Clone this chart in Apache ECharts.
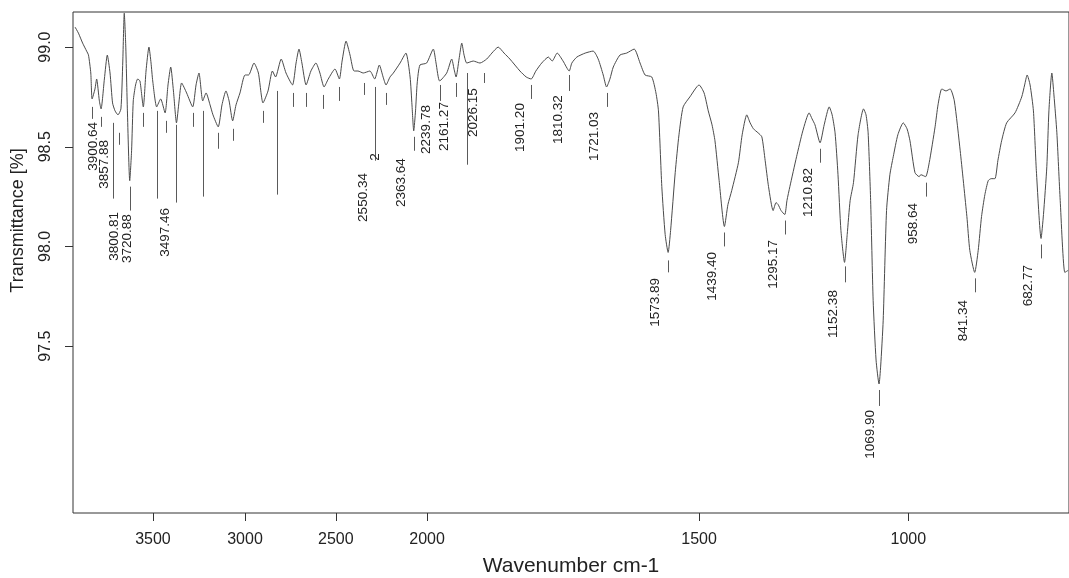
<!DOCTYPE html>
<html>
<head>
<meta charset="utf-8">
<script src="https://cdn.jsdelivr.net/npm/echarts@6/dist/echarts.min.js"></script>
<style>
  html, body { margin: 0; padding: 0; background: #fff; }
  #chart { width: 1069px; height: 578px; }
</style>
</head>
<body>
<div id="chart"></div>
<script>
// ---- spectrum (wavenumber cm-1, transmittance %) ----
const wavenumbers = [
  3982, 3966, 3946, 3927, 3918, 3907, 3900.64, 3887, 3879, 3866,
  3857.88, 3842, 3828, 3815, 3803, 3791, 3777, 3763, 3754, 3747,
  3740, 3732, 3720.88, 3712, 3704, 3693, 3683, 3672, 3656, 3643,
  3629, 3619, 3611, 3592, 3573, 3552, 3538, 3525, 3512, 3497.46,
  3485, 3473, 3449, 3420, 3404, 3390, 3372, 3356, 3337, 3323,
  3298, 3280, 3261, 3246, 3229, 3213, 3194, 3170, 3153, 3127,
  3106, 3084, 3060, 3039, 3024, 2997, 2974, 2943, 2926, 2912,
  2898, 2878, 2855, 2831, 2812, 2792, 2772, 2740, 2719, 2706,
  2687, 2668, 2649, 2630, 2605, 2573, 2550.34, 2528, 2510, 2496,
  2477, 2461, 2429, 2401, 2381, 2372, 2363.64, 2355, 2347, 2334,
  2302, 2270, 2257, 2239.78, 2206, 2182, 2171, 2161.27, 2147, 2134,
  2123, 2110, 2079, 2047, 2015, 1995, 1980, 1966, 1952, 1928,
  1913, 1901.2, 1890, 1876, 1860, 1851, 1839, 1825, 1810.32, 1804,
  1792, 1772, 1753, 1741, 1729, 1721.03, 1713, 1705, 1689, 1673,
  1655, 1641, 1629, 1613, 1603, 1597, 1589, 1581, 1573.89, 1568,
  1557, 1548, 1538, 1522, 1500, 1488, 1478, 1469, 1462, 1452,
  1439.4, 1431, 1422, 1406, 1397, 1386, 1378, 1370, 1359, 1350,
  1342, 1334, 1323, 1316, 1311, 1304, 1295.17, 1290, 1283, 1267,
  1252, 1237, 1230, 1223, 1210.82, 1201, 1189, 1182, 1175, 1168,
  1161, 1152.38, 1146, 1139, 1131, 1120, 1107, 1101, 1096, 1090,
  1084, 1077, 1069.9, 1066, 1060, 1052, 1044, 1036, 1025, 1012,
  1003, 996, 984, 974, 970, 958.64, 950, 936, 929, 920,
  910, 900, 890, 876, 860, 853, 841.34, 833, 825, 817,
  809, 802, 793, 786, 777, 765, 745, 729, 722, 716,
  709, 701, 694, 682.77, 677, 669, 664, 657, 652, 645,
  637, 626, 618
];
const transmittance = [
  99.10, 99.07, 99.02, 98.98, 98.96, 98.87, 98.74, 98.79, 98.84, 98.73,
  98.69, 98.84, 98.96, 98.87, 98.72, 98.68, 98.66, 98.69, 98.93, 99.17,
  99.01, 98.68, 98.33, 98.48, 98.73, 98.81, 98.84, 98.83, 98.70, 98.88,
  99.00, 98.92, 98.83, 98.70, 98.74, 98.67, 98.81, 98.90, 98.78, 98.62,
  98.73, 98.82, 98.77, 98.70, 98.81, 98.87, 98.73, 98.77, 98.71, 98.66,
  98.60, 98.71, 98.78, 98.73, 98.63, 98.71, 98.77, 98.86, 98.86, 98.92,
  98.87, 98.72, 98.78, 98.88, 98.85, 98.94, 98.87, 98.81, 98.92, 98.99,
  98.92, 98.81, 98.88, 98.92, 98.87, 98.80, 98.84, 98.89, 98.84, 98.93,
  99.03, 98.96, 98.88, 98.88, 98.87, 98.88, 98.84, 98.91, 98.85, 98.81,
  98.85, 98.87, 98.92, 98.97, 98.85, 98.71, 98.58, 98.68, 98.82, 98.91,
  98.92, 98.99, 98.92, 98.83, 98.87, 98.94, 98.89, 98.85, 98.94, 99.02,
  98.96, 98.92, 98.93, 98.92, 98.94, 98.97, 99.00, 98.97, 98.94, 98.88,
  98.85, 98.84, 98.88, 98.92, 98.95, 98.93, 98.97, 98.93, 98.88, 98.92,
  98.95, 98.97, 98.98, 98.94, 98.86, 98.80, 98.84, 98.90, 98.96, 98.97,
  98.99, 98.92, 98.86, 98.85, 98.77, 98.68, 98.30, 98.06, 97.97, 98.08,
  98.37, 98.56, 98.70, 98.75, 98.81, 98.77, 98.68, 98.61, 98.53, 98.33,
  98.10, 98.21, 98.28, 98.42, 98.56, 98.66, 98.62, 98.59, 98.57, 98.55,
  98.43, 98.30, 98.18, 98.22, 98.21, 98.18, 98.16, 98.23, 98.30, 98.45,
  98.58, 98.67, 98.64, 98.61, 98.52, 98.61, 98.70, 98.66, 98.57, 98.36,
  98.08, 97.92, 98.06, 98.23, 98.32, 98.56, 98.69, 98.66, 98.57, 98.23,
  97.73, 97.43, 97.31, 97.40, 97.63, 98.18, 98.36, 98.45, 98.56, 98.62,
  98.59, 98.53, 98.37, 98.35, 98.36, 98.35, 98.42, 98.60, 98.71, 98.79,
  98.78, 98.79, 98.73, 98.48, 98.15, 97.98, 97.87, 97.98, 98.15, 98.26,
  98.33, 98.34, 98.34, 98.43, 98.53, 98.62, 98.67, 98.75, 98.81, 98.86,
  98.81, 98.68, 98.38, 98.04, 98.16, 98.40, 98.68, 98.87, 98.76, 98.57,
  98.23, 97.87, 97.88
];

// ---- peak marks (wavenumber, line from / to in transmittance) ----
const markWn     = [3900.64, 3857.88, 3770, 3800.81, 3720.88, 3656, 3592, 3548, 3497.46, 3417, 3369, 3298, 3226, 3083, 3019, 2942, 2878, 2795, 2721, 2601, 2550.34, 2496, 2363.64, 2239.78, 2161.27, 2110, 2026.15, 1901.20, 1810.32, 1721.03, 1573.89, 1439.40, 1295.17, 1210.82, 1152.38, 1069.90, 958.64, 841.34, 682.77];
const markTop    = [98.70, 98.65, 98.57, 98.62, 98.30, 98.67, 98.68, 98.63, 98.61, 98.67, 98.68, 98.57, 98.59, 98.68, 98.78, 98.77, 98.77, 98.76, 98.80, 98.82, 98.80, 98.77, 98.55, 98.81, 98.82, 98.87, 98.87, 98.81, 98.86, 98.77, 97.93, 98.07, 98.13, 98.49, 97.90, 97.28, 98.32, 97.84, 98.01];
const markBottom = [98.64, 98.60, 98.51, 98.24, 98.18, 98.60, 98.24, 98.57, 98.22, 98.60, 98.25, 98.49, 98.53, 98.62, 98.26, 98.70, 98.70, 98.69, 98.73, 98.76, 98.43, 98.71, 98.48, 98.73, 98.75, 98.41, 98.82, 98.74, 98.78, 98.70, 97.87, 98.00, 98.06, 98.42, 97.82, 97.20, 98.25, 97.77, 97.94];

// ---- peak labels ----
const labelText = ['3900.64', '3857.88', '3800.81', '3720.88', '3497.46', '2550.34', '2', '2363.64', '2239.78', '2161.27', '2026.15', '1901.20', '1810.32', '1721.03', '1573.89', '1439.40', '1295.17', '1210.82', '1152.38', '1069.90', '958.64', '841.34', '682.77'];
const labelWn   = [3900.64, 3857.88, 3800.81, 3720.88, 3497.46, 2550.34, 2550.34, 2363.64, 2239.78, 2161.27, 2026.15, 1901.20, 1810.32, 1721.03, 1573.89, 1439.40, 1295.17, 1210.82, 1152.38, 1069.90, 958.64, 841.34, 682.77];
const labelTop  = [98.624, 98.534, 98.173, 98.162, 98.193, 98.368, 98.468, 98.443, 98.709, 98.724, 98.794, 98.719, 98.759, 98.674, 97.842, 97.972, 98.032, 98.393, 97.781, 97.180, 98.218, 97.731, 97.907];

// ---- axis tick labels ----
const xTicks = [3500, 3000, 2500, 2000, 1500, 1000];
const yTicks = [97.5, 98.0, 98.5, 99.0];

// layout: where each x tick label sits on the (compressed) axis, as drawn in the source figure
const xTickAt = [2805, 2585, 2368, 2150, 1500, 1000];
// layout: pixel offsets of label text from its mark line
const labelDx = [1, 3, 1, -2, -11, -11, 1, -12, -13, -12, -11, -11, -11, -12, -13, -12, -11, -12, -11, -9, -12, -11, -13];

// Axis scale: above 2000 cm-1 the wavenumber axis is compressed 2:1
function toAxis(w) { return w > 2000 ? 2000 + (w - 2000) / 2 : w; }

const FONT = 'Liberation Sans, Arial, Helvetica, sans-serif';

const chart = echarts.init(document.getElementById('chart'), null, { renderer: 'canvas' });

const option = {
  animation: false,
  backgroundColor: '#ffffff',
  grid: {
    left: 73, right: 0, top: 12, bottom: 65,
    show: true, borderColor: '#333', borderWidth: 1,
    containLabel: false, outerBoundsMode: 'none'
  },
  xAxis: {
    type: 'value',
    inverse: true,
    min: 616, max: 2996,
    name: 'Wavenumber cm-1',
    nameLocation: 'middle',
    nameGap: 43,
    nameTextStyle: { fontFamily: FONT, fontSize: 21, color: '#222' },
    axisLine: { show: false },
    splitLine: { show: false },
    axisTick: {
      show: true, length: 8, inside: false,
      customValues: xTickAt,
      lineStyle: { color: '#333', width: 1 }
    },
    axisLabel: {
      customValues: xTickAt,
      formatter: function (v) {
        const i = xTickAt.indexOf(v);
        return i >= 0 ? String(xTicks[i]) : '';
      },
      margin: 19,
      fontFamily: FONT, fontSize: 16, color: '#222'
    }
  },
  yAxis: {
    type: 'value',
    min: 96.663, max: 99.176,
    name: 'Transmittance [%]',
    nameLocation: 'middle',
    nameRotate: 90,
    nameGap: 46,
    nameTextStyle: { fontFamily: FONT, fontSize: 18, color: '#222', padding: [0, 0, 0, 84] },
    axisLine: { show: false },
    splitLine: { show: false },
    axisTick: {
      show: true, length: 8, inside: false,
      customValues: yTicks,
      lineStyle: { color: '#333', width: 1 }
    },
    axisLabel: {
      customValues: yTicks,
      rotate: 90,
      formatter: v => v.toFixed(1),
      margin: 19,
      fontFamily: FONT, fontSize: 16, color: '#222'
    }
  },
  series: [
    {
      type: 'line',
      name: 'spectrum',
      data: wavenumbers.map((w, i) => [toAxis(w), transmittance[i]]),
      showSymbol: false,
      smooth: 0.2,
      clip: true,
      lineStyle: { color: '#4a4a4a', width: 1 },
      z: 3
    },
    {
      type: 'custom',
      name: 'marks',
      data: markWn.map((w, i) => [toAxis(w), markTop[i], markBottom[i]]),
      encode: { x: 0, y: [1, 2] },
      renderItem: function (params, api) {
        const p1 = api.coord([api.value(0), api.value(1)]);
        const p2 = api.coord([api.value(0), api.value(2)]);
        const x = Math.round(p1[0]) + 0.5;
        return {
          type: 'line',
          shape: { x1: x, y1: p1[1], x2: x, y2: p2[1] },
          style: { stroke: '#5a5a5a', lineWidth: 1 }
        };
      },
      z: 2
    },
    {
      type: 'custom',
      name: 'labels',
      data: labelWn.map((w, i) => [toAxis(w), labelTop[i]]),
      encode: { x: 0, y: 1 },
      renderItem: function (params, api) {
        const p = api.coord([api.value(0), api.value(1)]);
        const i = params.dataIndex;
        return {
          type: 'text',
          x: p[0] + labelDx[i],
          y: p[1],
          rotation: Math.PI / 2,
          style: {
            text: labelText[i],
            fontFamily: FONT,
            fontSize: 13.5,
            fill: '#222',
            align: 'right',
            verticalAlign: 'middle'
          }
        };
      },
      z: 4
    }
  ]
};

chart.setOption(option);
</script>
</body>
</html>
